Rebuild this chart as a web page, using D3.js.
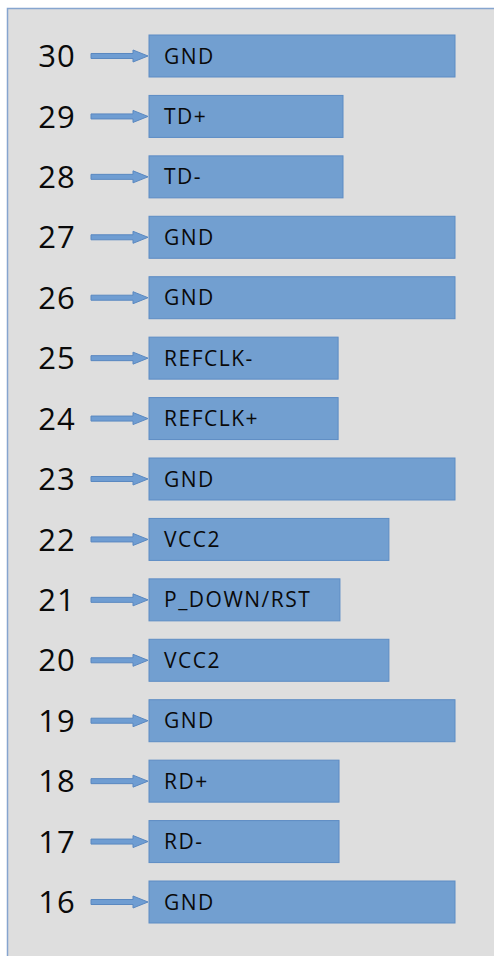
<!DOCTYPE html>
<html><head><meta charset="utf-8">
<script src="https://cdn.jsdelivr.net/npm/d3@7"></script>
<style>html,body{margin:0;padding:0;background:#fff;}svg{display:block;}</style>
</head><body>
<script>
const pins = ["30","29","28","27","26","25","24","23","22","21","20","19","18","17","16"];
const signals = ["GND","TD+","TD-","GND","GND","REFCLK-","REFCLK+","GND","VCC2","P_DOWN/RST","VCC2","GND","RD+","RD-","GND"];
const lengths = [100,63.4,63.4,100,100,61.8,61.8,100,78.4,62.4,78.4,100,62.1,62.1,100];

const W=494,H=956;
const svg=d3.select("body").append("svg").attr("width",W).attr("height",H);
svg.append("rect").attr("x",7.5).attr("y",8.5).attr("width",W).attr("height",H)
  .attr("fill","#dedede").attr("stroke","#86a5cf").attr("stroke-width",1.5);

const y=d3.scaleBand().domain(pins).range([35,923]).paddingInner(0.305).paddingOuter(0);
const x=d3.scaleLinear().domain([0,100]).range([149,455]);
const data=pins.map((p,i)=>({pin:p,sig:signals[i],len:lengths[i]}));

const g=svg.selectAll("g.row").data(data).join("g").attr("class","row");
g.append("rect").attr("x",x(0)).attr("y",d=>y(d.pin)).attr("width",d=>x(d.len)-x(0))
  .attr("height",y.bandwidth()).attr("fill","#729fd0").attr("stroke","#5d8cc4").attr("stroke-width",1);
g.append("text").attr("x",x(0)+15).attr("y",d=>y(d.pin)+y.bandwidth()/2)
  .attr("dy","0.36em").attr("font-family","Open Sans, sans-serif").attr("font-size",21)
  .attr("letter-spacing",1.5).attr("fill","#0a0a0a").text(d=>d.sig);
g.append("text").attr("x",57).attr("y",d=>y(d.pin)+y.bandwidth()/2)
  .attr("dy","0.36em").attr("text-anchor","middle").attr("font-family","Open Sans, sans-serif")
  .attr("font-size",31).attr("letter-spacing",1).attr("fill","#0a0a0a").text(d=>d.pin);
// arrows
g.append("path").attr("d",d=>{
  const cy=y(d.pin)+y.bandwidth()/2;
  const x0=91,xh=133,xe=148;
  return `M${x0},${cy-2.5}L${xh},${cy-2.5}L${xh},${cy-6}L${xe},${cy}L${xh},${cy+6}L${xh},${cy+2.5}L${x0},${cy+2.5}Z`;
}).attr("fill","#6f9dd2").attr("stroke","#5a88c0").attr("stroke-width",1);
</script>
</body></html>
